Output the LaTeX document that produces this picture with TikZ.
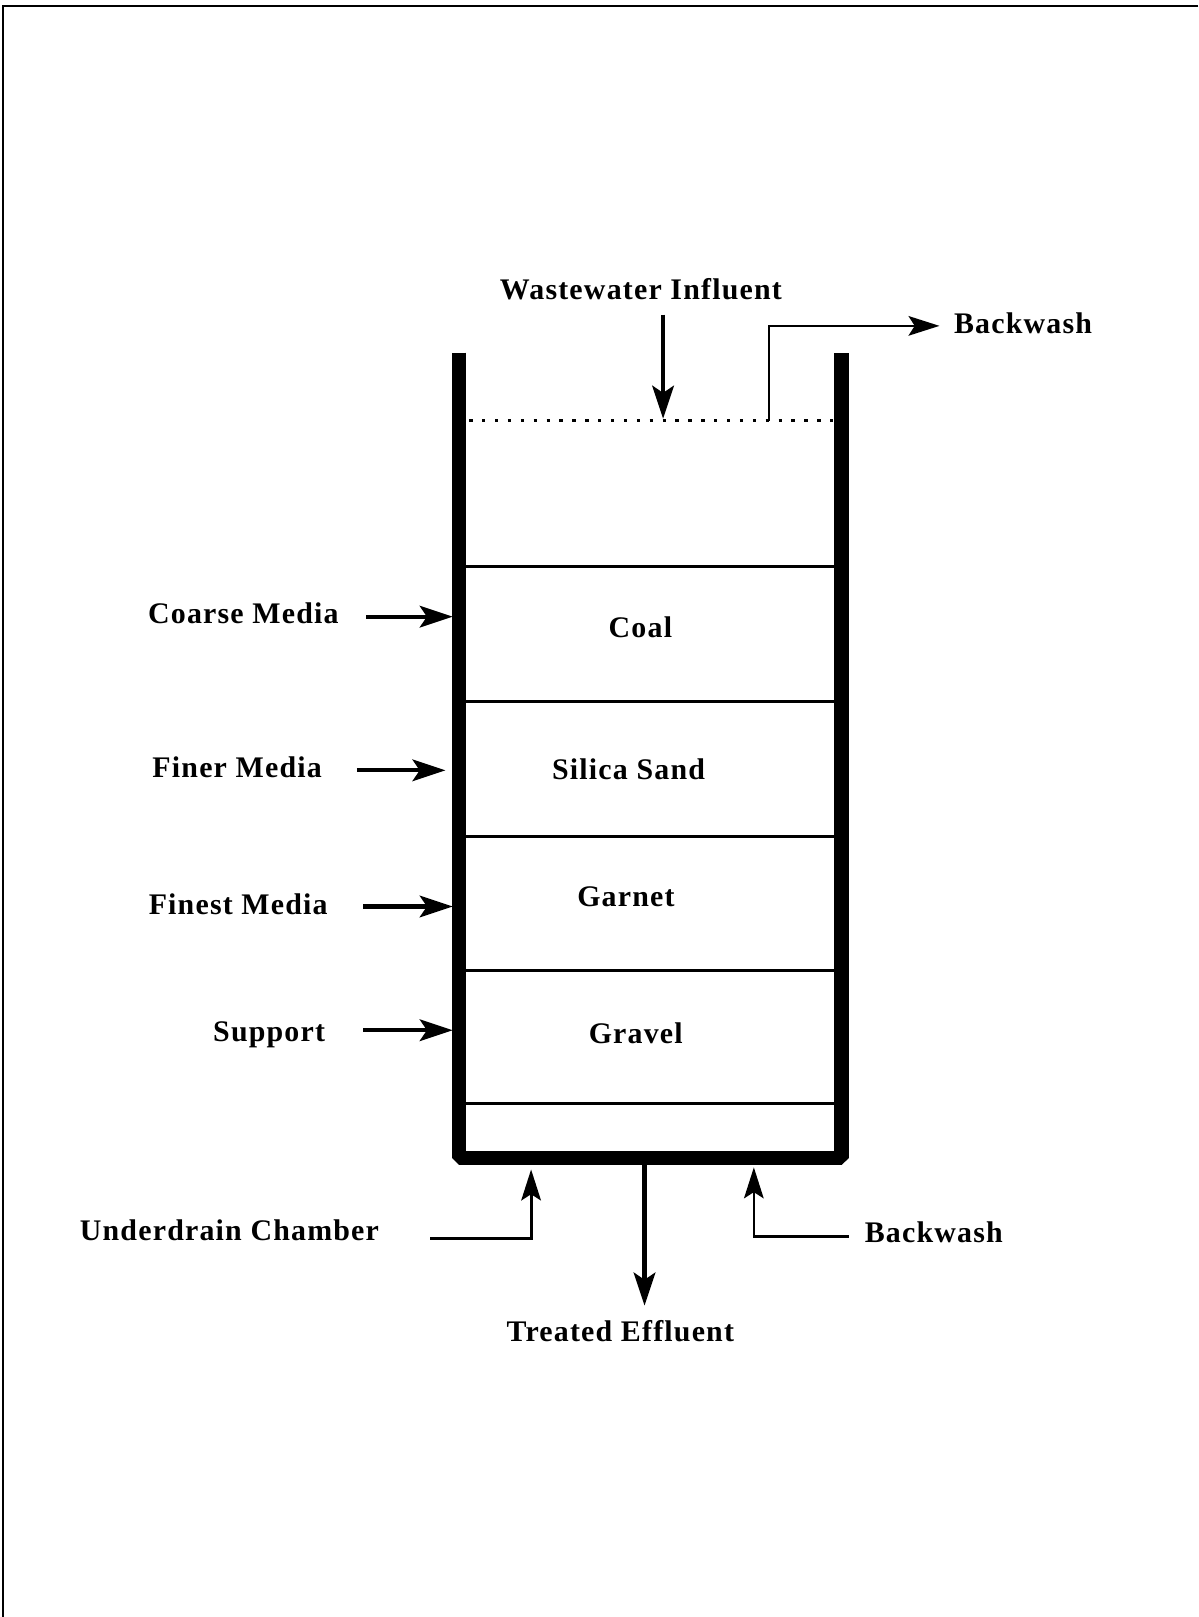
\documentclass[tikz,border=0pt]{standalone}
\usepackage{fontspec}
\setmainfont{Liberation Serif}
\newfontfamily\lblfont[LetterSpace=4]{Liberation Serif}
\usetikzlibrary{arrows.meta}
\tikzset{
  lbl/.style={font=\lblfont\bfseries\fontsize{14.5}{16}\selectfont, anchor=base, inner sep=0pt},
  wall/.style={line width=6.8pt, line join=bevel},
  layer/.style={line width=1.6pt},
  flow/.style={line width=2pt, -{Stealth[length=16pt,width=10.5pt,inset=3.5pt]}},
  thinflow/.style={line width=1.1pt, -{Stealth[length=15pt,width=9.5pt,inset=3pt]}},
  frame/.style={line width=1pt}
}
\begin{document}
\begin{tikzpicture}[x=0.5pt,y=-0.5pt]
\useasboundingbox (0,0) rectangle (1162,1568);
% frame (top and left edges)
\coordinate (fr1) at (1162,5.8);
\coordinate (fr2) at (3.2,5.8);
\coordinate (fr3) at (3.2,1568);
\draw[frame] (fr1) -- (fr2) -- (fr3);

% tank
\coordinate (tl) at (445,342);
\coordinate (bl) at (445,1123);
\coordinate (br) at (816,1123);
\coordinate (tr) at (816,342);
\draw[wall] (tl) -- (bl) -- (br) -- (tr);

% water level (dotted)
\coordinate (wl1) at (455,408);
\coordinate (wl2) at (810,408);
\draw[line width=1.6pt, dash pattern=on 1.6pt off 4.65pt] (wl1) -- (wl2);

% layer boundaries
\foreach \n/\y in {a/549, b/680, c/811, d/941, e/1070} {
  \coordinate (L\n) at (452,\y);
  \coordinate (R\n) at (809,\y);
  \draw[layer] (L\n) -- (R\n);
}

% layer labels
\node[lbl] (coal) at (621,618) {Coal};
\node[lbl] (silica) at (609.5,756) {Silica Sand};
\node[lbl] (garnet) at (607,879) {Garnet};
\node[lbl] (gravel) at (616.5,1012) {Gravel};

% left labels and arrows
\node[lbl] (coarse) at (236,605) {Coarse Media};
\node[lbl] (finer) at (230,754) {Finer Media};
\node[lbl] (finest) at (231,887) {Finest Media};
\node[lbl] (support) at (261,1010) {Support};

\coordinate (ca1) at (355,598); \coordinate (ca2) at (439,598);
\coordinate (fa1) at (346,747); \coordinate (fa2) at (432,747);
\coordinate (fi1) at (352,879); \coordinate (fi2) at (439,879);
\coordinate (sa1) at (352,999); \coordinate (sa2) at (439,999);
\draw[flow] (ca1) -- (ca2);
\draw[flow] (fa1) -- (fa2);
\draw[flow] (fi1) -- (fi2);
\draw[flow] (sa1) -- (sa2);

% influent
\node[lbl] (influent) at (621.5,290) {Wastewater Influent};
\coordinate (in1) at (643,305);
\coordinate (in2) at (643,406);
\draw[flow] (in1) -- (in2);

% backwash outlet (top)
\node[lbl] (bwtop) at (992,323) {Backwash};
\coordinate (bo1) at (746,408);
\coordinate (bo2) at (746,316);
\coordinate (bo3) at (911,316);
\draw[thinflow] (bo1) -- (bo2) -- (bo3);

% treated effluent
\node[lbl] (effluent) at (601.5,1301) {Treated Effluent};
\coordinate (ef1) at (625,1128);
\coordinate (ef2) at (625,1266);
\draw[flow] (ef1) -- (ef2);

% underdrain chamber
\node[lbl] (underdrain) at (222.5,1203) {Underdrain Chamber};
\coordinate (ud1) at (417,1201);
\coordinate (ud2) at (515,1201);
\coordinate (ud3) at (515,1134);
\draw[thinflow, line width=1.5pt] (ud1) -- (ud2) -- (ud3);

% backwash inlet (bottom)
\node[lbl] (bwbot) at (905.5,1205) {Backwash};
\coordinate (bi1) at (823,1199);
\coordinate (bi2) at (731,1199);
\coordinate (bi3) at (731,1132);
\draw[thinflow] (bi1) -- (bi2) -- (bi3);
\end{tikzpicture}
\end{document}
